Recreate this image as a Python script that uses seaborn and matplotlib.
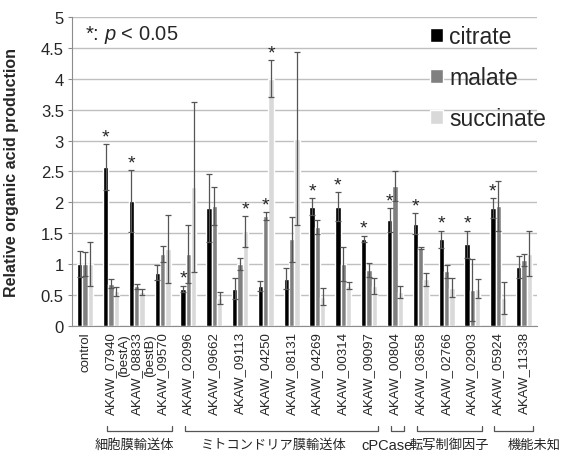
import pandas as pd
import seaborn as sns
import matplotlib.pyplot as plt
import matplotlib.transforms as mtrans
from matplotlib.patches import Patch

# data
strains = ["control", "AKAW_07940", "AKAW_08833", "AKAW_09570", "AKAW_02096",
           "AKAW_09662", "AKAW_09113", "AKAW_04250", "AKAW_08131", "AKAW_04269",
           "AKAW_00314", "AKAW_09097", "AKAW_00804", "AKAW_03658", "AKAW_02766",
           "AKAW_02903", "AKAW_05924", "AKAW_11338"]
notes = {1: "(bestA)", 2: "(bestB)"}

citrate = [1.0, 2.57, 2.02, 0.86, 0.6, 1.91, 0.6, 0.65, 0.76, 1.93,
           1.93, 1.41, 1.71, 1.65, 1.4, 1.32, 1.91, 0.95]
citrate_err = [0.21, 0.37, 0.5, 0.12, 0.05, 0.55, 0.17, 0.08, 0.17, 0.14,
               0.24, 0.05, 0.19, 0.17, 0.14, 0.22, 0.16, 0.18]
malate = [1.0, 0.68, 0.64, 1.17, 1.17, 1.94, 1.0, 1.78, 1.4, 1.6,
          1.0, 0.9, 2.26, 1.26, 0.88, 0.58, 1.94, 1.07]
malate_err = [0.19, 0.07, 0.04, 0.13, 0.47, 0.31, 0.1, 0.06, 0.36, 0.11,
              0.27, 0.11, 0.24, 0.02, 0.1, 0.5, 0.41, 0.1]
succinate = [1.0, 0.56, 0.55, 1.25, 2.25, 0.45, 1.53, 4.0, 3.03, 0.47,
             0.65, 0.65, 0.55, 0.75, 0.62, 0.6, 0.45, 1.17]
succinate_err = [0.35, 0.07, 0.05, 0.55, 1.38, 0.1, 0.25, 0.3, 1.4, 0.14,
                 0.06, 0.13, 0.1, 0.11, 0.15, 0.15, 0.26, 0.36]

sig_citrate = [0, 1, 1, 0, 1, 0, 0, 0, 0, 1, 1, 1, 1, 1, 1, 1, 1, 0]
sig_malate = [0, 0, 0, 0, 0, 0, 0, 1, 0, 0, 0, 0, 0, 0, 0, 0, 0, 0]
sig_succinate = [0, 0, 0, 0, 0, 0, 1, 1, 0, 0, 0, 0, 0, 0, 0, 0, 0, 0]

acids = ["citrate", "malate", "succinate"]
colors = ["#000000", "#808080", "#d9d9d9"]

groups = [("細胞膜輸送体", 1, 3), ("ミトコンドリア膜輸送体", 4, 11),
          ("cPCase", 12, 12), ("転写制御因子", 13, 15), ("機能未知", 16, 17)]
# nudges of the group captions relative to their brackets (category units)
label_shift = [-0.2, -0.3, -0.4, 0.0, 0.8]

yticks = [0, 0.5, 1, 1.5, 2, 2.5, 3, 3.5, 4, 4.5, 5]

sns.set_style("white")
plt.rcParams['font.family'] = ['Liberation Sans', 'Noto Sans CJK JP']
plt.rcParams['mathtext.fontset'] = 'custom'
plt.rcParams['mathtext.rm'] = 'Liberation Sans'
plt.rcParams['mathtext.it'] = 'Liberation Sans:italic'

df = pd.DataFrame({
    "strain": strains * 3,
    "acid": [a for a in acids for _ in strains],
    "value": citrate + malate + succinate,
})

fig = plt.figure(figsize=(5.64, 4.52), dpi=100)
ax = fig.add_axes([0.128, 0.277, 0.824, 0.683])

sns.barplot(data=df, x="strain", y="value", hue="acid", palette=colors,
            width=0.62, gap=0, errorbar=None, saturation=1, ax=ax,
            legend=False)

errs = [citrate_err, malate_err, succinate_err]
sigs = [sig_citrate, sig_malate, sig_succinate]
for cont, err, sig in zip(ax.containers, errs, sigs):
    xs = [p.get_x() + p.get_width() / 2 for p in cont]
    hs = [p.get_height() for p in cont]
    ax.errorbar(xs, hs, yerr=err, fmt="none", ecolor="#555555",
                elinewidth=0.9, capsize=2.2, capthick=0.9)
    for x, h, e, s in zip(xs, hs, err, sig):
        if s:
            ax.annotate("*", (x, h + e), xytext=(0, 2), textcoords="offset points",
                        ha="center", va="baseline", fontsize=14)

ax.set_xlim(-0.5, 17.5)
ax.set_ylim(0, 5)
ax.set_yticks(yticks)
ax.set_yticklabels([f"{v:g}" for v in yticks], fontsize=12)
ax.set_xticks(range(len(strains)))
ax.set_xticklabels(strains, rotation=90, fontsize=9.5)
ax.tick_params(axis="x", length=0, pad=4)
ax.tick_params(axis="y", length=3, color="#8c8c8c", pad=3, left=True)
ax.set_xlabel("")
ax.set_ylabel("Relative organic acid production", fontsize=11.5, fontweight="bold")
ax.yaxis.set_label_coords(-0.114, 0.5)

ax.yaxis.grid(True, color="#bfbfbf", lw=1)
ax.set_axisbelow(True)
for sp in ["top", "right"]:
    ax.spines[sp].set_visible(False)
for sp in ["left", "bottom"]:
    ax.spines[sp].set_color("#8c8c8c")

trans = mtrans.blended_transform_factory(ax.transData, ax.transAxes)
for i, n in notes.items():
    ax.text(i + 0.5, -0.024, n, rotation=90, ha="center", va="top",
            fontsize=9.5, transform=trans)

for (name, s, e), dx in zip(groups, label_shift):
    x0, x1 = s - 0.15, e + 0.36
    ax.plot([x0, x0, x1, x1], [-0.324, -0.34, -0.34, -0.324], color="#555555",
            lw=0.9, transform=trans, clip_on=False)
    fs = 10.5 if name.isascii() else 9.5
    ax.text((x0 + x1) / 2 + dx, -0.385, name, ha="center", va="center",
            fontsize=fs, family=['Liberation Sans', 'Noto Sans CJK JP'],
            transform=trans)

ax.text(0.028, 0.945, r"*: $\it{p}$ < 0.05", transform=ax.transAxes,
        ha="left", va="center", fontsize=14.5)

handles = [Patch(facecolor=c, label=a) for a, c in zip(acids, colors)]
ax.legend(handles=handles, loc="upper right", bbox_to_anchor=(1.03, 0.99),
          frameon=False, fontsize=16.5, handlelength=0.55, handleheight=0.55,
          handletextpad=0.3, labelspacing=0.8, borderaxespad=0, borderpad=0.2)

fig.savefig("out.png", dpi=100)
